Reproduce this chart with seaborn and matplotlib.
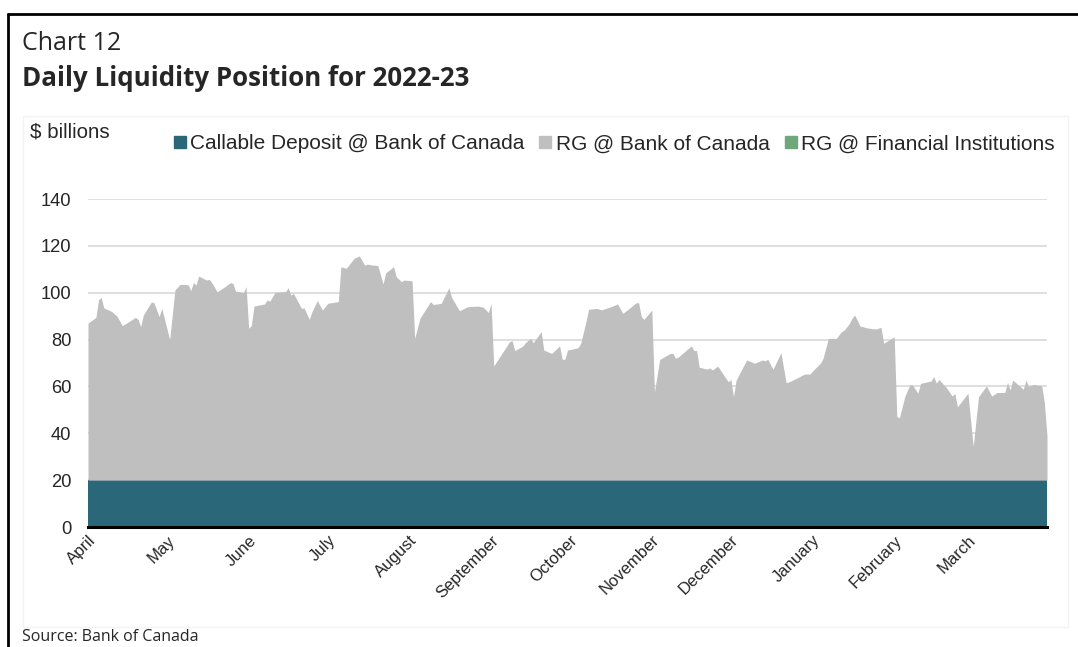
import matplotlib
matplotlib.use("Agg")
import matplotlib.pyplot as plt
from matplotlib.patches import Rectangle
from matplotlib.lines import Line2D
import seaborn as sns
import pandas as pd

# ---- data (daily, $ billions) -------------------------------------------
dates = [
    "2022-04-01", "2022-04-04", "2022-04-05", "2022-04-06", "2022-04-07", "2022-04-10",
    "2022-04-12", "2022-04-14", "2022-04-16", "2022-04-19", "2022-04-20", "2022-04-21",
    "2022-04-22", "2022-04-25", "2022-04-26", "2022-04-28", "2022-04-29",
    "2022-05-02", "2022-05-04", "2022-05-06", "2022-05-09", "2022-05-10", "2022-05-11",
    "2022-05-12", "2022-05-13", "2022-05-16", "2022-05-17", "2022-05-18", "2022-05-20",
    "2022-05-23", "2022-05-25", "2022-05-26", "2022-05-27", "2022-05-30", "2022-05-31",
    "2022-06-01", "2022-06-02", "2022-06-03", "2022-06-07", "2022-06-08", "2022-06-09",
    "2022-06-11", "2022-06-15", "2022-06-16", "2022-06-17", "2022-06-18", "2022-06-19",
    "2022-06-21", "2022-06-22", "2022-06-24", "2022-06-25", "2022-06-27", "2022-06-29",
    "2022-07-01", "2022-07-05", "2022-07-06", "2022-07-08", "2022-07-11", "2022-07-13",
    "2022-07-15", "2022-07-16", "2022-07-18", "2022-07-20", "2022-07-22", "2022-07-23",
    "2022-07-26", "2022-07-27", "2022-07-29", "2022-07-30",
    "2022-08-02", "2022-08-03", "2022-08-05", "2022-08-09", "2022-08-10", "2022-08-13",
    "2022-08-16", "2022-08-17", "2022-08-20", "2022-08-23", "2022-08-27", "2022-08-29",
    "2022-08-31",
    "2022-09-01", "2022-09-02", "2022-09-08", "2022-09-09", "2022-09-10", "2022-09-13",
    "2022-09-14", "2022-09-16", "2022-09-17", "2022-09-20", "2022-09-21", "2022-09-24",
    "2022-09-27", "2022-09-28", "2022-09-29", "2022-09-30",
    "2022-10-04", "2022-10-05", "2022-10-07", "2022-10-08", "2022-10-11", "2022-10-13",
    "2022-10-16", "2022-10-19", "2022-10-21", "2022-10-24", "2022-10-26", "2022-10-27",
    "2022-10-28", "2022-10-29",
    "2022-11-01", "2022-11-02", "2022-11-04", "2022-11-08", "2022-11-09", "2022-11-10",
    "2022-11-11", "2022-11-16", "2022-11-17", "2022-11-18", "2022-11-19", "2022-11-22",
    "2022-11-23", "2022-11-24", "2022-11-26", "2022-11-28", "2022-11-30",
    "2022-12-01", "2022-12-02", "2022-12-03", "2022-12-07", "2022-12-08", "2022-12-10",
    "2022-12-13", "2022-12-14", "2022-12-15", "2022-12-17", "2022-12-20", "2022-12-22",
    "2022-12-24", "2022-12-29", "2022-12-31",
    "2023-01-02", "2023-01-04", "2023-01-05", "2023-01-07", "2023-01-10", "2023-01-12",
    "2023-01-13", "2023-01-15", "2023-01-16", "2023-01-17", "2023-01-19", "2023-01-22",
    "2023-01-25", "2023-01-27", "2023-01-28",
    "2023-02-01", "2023-02-02", "2023-02-03", "2023-02-05", "2023-02-07", "2023-02-08",
    "2023-02-10", "2023-02-11", "2023-02-15", "2023-02-16", "2023-02-17", "2023-02-18",
    "2023-02-21", "2023-02-23", "2023-02-24", "2023-02-25",
    "2023-03-01", "2023-03-03", "2023-03-05", "2023-03-08", "2023-03-10", "2023-03-12",
    "2023-03-15", "2023-03-16", "2023-03-17", "2023-03-18", "2023-03-22", "2023-03-23",
    "2023-03-24", "2023-03-26", "2023-03-29", "2023-03-30", "2023-03-31",
]

# Callable deposit held at the Bank of Canada (flat all year)
callable_deposit = [20.0] * len(dates)

# Receiver General cash balances held at the Bank of Canada
rg_bank_of_canada = [
    67.0, 69.5, 77.0, 78.0, 73.5, 72.0, 70.0, 66.0, 67.3, 69.5, 68.6, 65.5, 70.5, 76.0, 75.8, 69.8, 73.3,
    60.0, 81.2, 83.6, 83.4, 80.9, 84.3, 83.3, 87.1, 85.4, 85.7, 84.3, 80.4, 82.6, 84.3, 84.0, 80.7, 80.0, 82.6,
    64.8, 66.0, 74.3, 75.2, 76.9, 76.4, 80.2, 80.5, 82.1, 79.0, 79.7, 77.6, 73.3, 73.5, 68.6, 71.9, 76.6, 72.6,
    75.5, 76.2, 91.1, 90.4, 94.7, 95.7, 91.8, 92.2, 91.8, 91.6, 83.7, 88.5, 91.1, 86.8, 84.7, 85.4,
    85.1, 60.5, 69.1, 76.2, 75.0, 75.4, 82.1, 78.0, 72.3, 74.0, 74.3, 73.8, 71.5,
    75.5, 48.7, 59.1, 59.5, 55.3, 57.2, 58.7, 60.5, 58.7, 63.4, 55.5, 54.1, 57.3, 51.6, 51.6, 55.5,
    56.5, 58.4, 67.6, 72.9, 73.3, 72.7, 73.8, 75.2, 71.2, 73.8, 75.7, 75.7, 69.8, 68.6,
    72.6, 37.7, 51.5, 54.1, 54.1, 52.0, 52.5, 57.3, 55.3, 55.3, 48.2, 47.4, 47.9, 47.0, 48.7, 45.3, 42.0,
    43.0, 35.6, 42.7, 51.3, 50.8, 49.9, 51.3, 50.9, 51.6, 47.3, 54.4, 41.6, 42.4, 45.3, 45.3,
    47.7, 49.9, 52.0, 60.5, 60.5, 63.4, 64.0, 66.9, 69.1, 70.5, 65.8, 64.9, 64.5, 65.2, 58.4,
    61.2, 27.1, 26.6, 35.6, 40.9, 40.5, 37.1, 41.3, 42.3, 44.2, 41.4, 43.0, 39.2, 35.9, 37.0, 31.3,
    37.1, 14.3, 35.6, 40.2, 35.9, 37.4, 37.4, 41.7, 38.5, 42.7, 38.8, 42.7, 40.0, 40.9, 40.2, 33.0, 19.0,
]

# Receiver General balances placed with financial institutions (nil over the year)
rg_financial_institutions = [0.0] * len(dates)

series_names = [
    "Callable Deposit @ Bank of Canada",
    "RG @ Bank of Canada",
    "RG @ Financial Institutions",
]
month_labels = ["April", "May", "June", "July", "August", "September", "October",
                "November", "December", "January", "February", "March", ""]
y_ticks = [0, 20, 40, 60, 80, 100, 120, 140]

# ---- styling -------------------------------------------------------------
colors = ["#2a6778", "#bfbfbf", "#6fa77b"]
sns.set_theme(style="white")
plt.rcParams["font.family"] = ["Liberation Sans", "DejaVu Sans"]

df = pd.DataFrame({
    "date": pd.to_datetime(dates),
    series_names[0]: callable_deposit,
    series_names[1]: rg_bank_of_canada,
    series_names[2]: rg_financial_institutions,
})

W, H = 1078, 647
fig = plt.figure(figsize=(W / 100, H / 100), dpi=100)
ax = fig.add_axes([88 / W, 1 - 527 / H, (1047 - 88) / W, (527 - 199) / H])

ax.stackplot(df["date"], df[series_names[0]], df[series_names[1]], df[series_names[2]],
             colors=colors, linewidth=0, zorder=2)

start = pd.Timestamp("2022-04-01")
end = pd.Timestamp("2023-03-31")
ax.set_xlim(start, end)
ax.set_ylim(0, 140)
ax.set_yticks(y_ticks)
ax.yaxis.grid(True, color="#d9d9d9", linewidth=1.2, zorder=0)
ax.set_axisbelow(True)

tick_dates = list(pd.date_range("2022-04-01", "2023-03-01", freq="MS")) + [end]
ax.set_xticks(tick_dates)
ax.set_xticklabels(month_labels, rotation=45, ha="right", va="top",
                   rotation_mode="anchor", fontsize=12)
ax.tick_params(axis="x", direction="out", length=4, width=2, color="black", pad=0)
ax.tick_params(axis="y", length=0, labelsize=13.2, pad=12)

sns.despine(ax=ax, left=True, top=True, right=True)
ax.spines["bottom"].set_color("black")
ax.spines["bottom"].set_linewidth(2.2)
ax.spines["bottom"].set_zorder(5)

# legend with square swatches
handles = [Line2D([0], [0], marker="s", linestyle="none", markersize=9,
                  markerfacecolor=c, markeredgecolor=c) for c in colors]
fig.legend(handles, series_names, loc="center", ncol=3, frameon=False,
           bbox_to_anchor=(612 / W, 1 - 144 / H), fontsize=15,
           handletextpad=0.0, columnspacing=0.5, handlelength=1.0)

# titles and notes
fig.text(22 / W, 1 - 43 / H, "Chart 12", fontsize=18, family="Open Sans",
         va="center", ha="left")
fig.text(22 / W, 1 - 79 / H, "Daily Liquidity Position for 2022-23", fontsize=18.6,
         family="Open Sans", fontweight="bold", va="center", ha="left")
fig.text(30 / W, 1 - 132 / H, "$ billions", fontsize=14.8, va="center", ha="left")
fig.text(22 / W, 1 - 637 / H, "Source: Bank of Canada", fontsize=11.5,
         family="Open Sans", va="center", ha="left")

# outer frame and faint chart-area box
fig.add_artist(Line2D([8 / W, 8 / W], [0, 1 - 14 / H], transform=fig.transFigure,
                      color="black", linewidth=2))
fig.add_artist(Line2D([8 / W, 1], [1 - 14 / H, 1 - 14 / H], transform=fig.transFigure,
                      color="black", linewidth=2))
fig.add_artist(Rectangle((23 / W, 1 - 627 / H), (1068 - 23) / W, (627 - 116) / H,
                         transform=fig.transFigure, fill=False, edgecolor="#f3f3f3",
                         linewidth=1, zorder=0))

fig.savefig("out.png", dpi=100)
